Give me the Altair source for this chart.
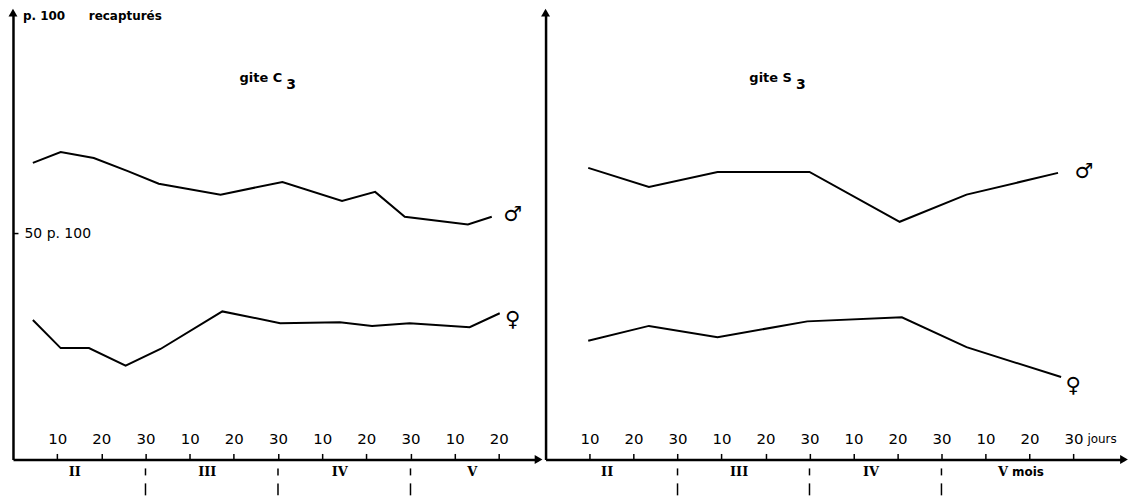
import altair as alt
import pandas as pd

# ---------------- data ----------------
# gite C3  (days counted from the start of month II)
C3_MALE_DAY = [4.5, 10.8, 18.3, 26.0, 33.0, 47.0, 61.0, 74.5, 82.0, 88.7, 103.0, 108.4]
C3_MALE_PCT = [65.5, 67.9, 66.6, 63.7, 60.9, 58.5, 61.3, 57.1, 59.1, 53.6, 51.9, 53.6]
C3_FEMALE_DAY = [4.5, 10.8, 17.2, 25.5, 33.4, 47.4, 60.5, 74.0, 81.3, 89.8, 103.4, 110.2]
C3_FEMALE_PCT = [30.8, 24.6, 24.6, 20.7, 24.4, 32.7, 30.1, 30.3, 29.5, 30.1, 29.2, 32.3]

# gite S3
S3_MALE_DAY = [9.7, 23.5, 39.1, 60.0, 80.5, 95.7, 116.5]
S3_MALE_PCT = [64.4, 60.2, 63.5, 63.5, 52.5, 58.5, 63.3]
S3_FEMALE_DAY = [9.7, 23.5, 39.1, 59.5, 81.0, 95.7, 117.2]
S3_FEMALE_PCT = [26.2, 29.5, 27.0, 30.5, 31.4, 24.8, 18.2]

TICKS_C3 = [10, 20, 30, 40, 50, 60, 70, 80, 90, 100, 110]
TICKS_S3 = [10, 20, 30, 40, 50, 60, 70, 80, 90, 100, 110, 120]
MONTH_NAMES = ["II", "III", "IV", "V"]
MONTH_CENTERS = [14, 44, 74, 104]
MONTH_BOUNDS = [30, 60, 90]
Y_TICK = [50]

# ---------------- layout / style ----------------
FONT = "DejaVu Sans"
H = 448
W1, W2 = 527, 580
XMAX1, XMAX2 = 119, 131.5
YMAX = 98.7


def panel(W, xmax, md, mp, fd, fp, ticks, left, title_main, title_x,
          m_dx, m_dy, f_dx, f_dy):
    xs = alt.Scale(domain=[0, xmax], nice=False, zero=False)
    ys = alt.Scale(domain=[0, YMAX], nice=False, zero=False)
    xaxis = alt.Axis(
        orient="top", offset=-H, values=ticks,
        labelExpr="datum.value % 30 == 0 ? '30' : '' + (datum.value % 30)",
        tickSize=6, tickWidth=1.5, tickColor="black",
        domainColor="black", domainWidth=2.5,
        labelFont=FONT, labelFontSize=15, labelColor="black",
        labelPadding=7, labelOverlap=False, labelFlush=False,
        grid=False, title=None,
    )
    if left:
        yaxis = alt.Axis(
            orient="right", offset=-W, values=Y_TICK,
            labelExpr="'50 p. 100'",
            tickSize=5, tickWidth=1.5, tickColor="black",
            domainColor="black", domainWidth=2.5,
            labelFont=FONT, labelFontSize=14, labelColor="black",
            labelPadding=6, grid=False, title=None,
        )
    else:
        yaxis = alt.Axis(
            orient="right", offset=-W, ticks=False, labels=False,
            domainColor="black", domainWidth=2.5, grid=False, title=None,
        )
    X = alt.X("day:Q", scale=xs, axis=xaxis)
    Y = alt.Y("pct:Q", scale=ys, axis=yaxis)

    df = pd.DataFrame({
        "day": md + fd,
        "pct": mp + fp,
        "sex": ["m"] * len(md) + ["f"] * len(fd),
    })
    lines = alt.Chart(df).mark_line(color="black", strokeWidth=2).encode(
        x=X, y=Y, detail="sex:N")

    male_end = pd.DataFrame({"day": [md[-1]], "pct": [mp[-1]], "sym": ["♂"]})
    fem_end = pd.DataFrame({"day": [fd[-1]], "pct": [fp[-1]], "sym": ["♀"]})
    male_sym = alt.Chart(male_end).mark_text(
        font=FONT, fontSize=21, dx=m_dx, dy=m_dy, color="black").encode(
        x=X, y=Y, text="sym:N")
    fem_sym = alt.Chart(fem_end).mark_text(
        font=FONT, fontSize=21, dx=f_dx, dy=f_dy, color="black").encode(
        x=X, y=Y, text="sym:N")

    arrows = pd.DataFrame({"day": [0, xmax], "pct": [YMAX, 0],
                           "shape": ["triangle-up", "triangle-right"]})
    heads = alt.Chart(arrows).mark_point(
        filled=True, size=80, color="black", opacity=1).encode(
        x=X, y=Y, shape=alt.Shape("shape:N", scale=None))

    months = pd.DataFrame({"day": MONTH_CENTERS, "name": MONTH_NAMES})
    month_txt = alt.Chart(months).mark_text(
        font="DejaVu Serif", fontWeight="bold", fontSize=13,
        baseline="middle", color="black").encode(
        x=X, y=alt.value(H + 13), text="name:N")

    bounds_df = pd.DataFrame({"day": MONTH_BOUNDS})
    sep_short = alt.Chart(bounds_df).mark_rule(
        color="black", strokeWidth=1.5).encode(
        x=X, y=alt.value(H + 9), y2=alt.value(H + 16))
    sep_long = alt.Chart(bounds_df).mark_rule(
        color="black", strokeWidth=1.5).encode(
        x=X, y=alt.value(H + 24), y2=alt.value(H + 36))

    t1 = alt.Chart(pd.DataFrame({"t": [title_main]})).mark_text(
        font=FONT, fontSize=13, fontWeight="bold", align="right",
        baseline="alphabetic", color="black").encode(
        x=alt.value(title_x), y=alt.value(70), text="t:N")
    t2 = alt.Chart(pd.DataFrame({"t": ["3"]})).mark_text(
        font=FONT, fontSize=14, fontWeight="bold", align="left",
        baseline="alphabetic", color="black").encode(
        x=alt.value(title_x + 4), y=alt.value(77), text="t:N")

    layers = [lines, male_sym, fem_sym, heads, month_txt,
              sep_short, sep_long, t1, t2]

    if left:
        lab = pd.DataFrame({"t": ["p. 100", "recapturés"], "px": [10, 76]})
        top_txt = alt.Chart(lab).mark_text(
            font=FONT, fontSize=12, fontWeight="bold", align="left",
            baseline="middle", color="black").encode(
            x=alt.X("px:Q", scale=None), y=alt.value(3), text="t:N")
        layers.append(top_txt)
    else:
        jours = pd.DataFrame({"day": [120], "t": ["jours"]})
        jours_txt = alt.Chart(jours).mark_text(
            font=FONT, fontSize=12, align="left", baseline="bottom",
            dx=14, color="black").encode(
            x=X, y=alt.value(H - 13), text="t:N")
        mois = pd.DataFrame({"day": [MONTH_CENTERS[-1]], "t": ["mois"]})
        mois_txt = alt.Chart(mois).mark_text(
            font=FONT, fontSize=12, fontWeight="bold", align="left",
            baseline="middle", dx=9, color="black").encode(
            x=X, y=alt.value(H + 13), text="t:N")
        layers += [jours_txt, mois_txt]

    return alt.layer(*layers).properties(width=W, height=H)


left = panel(W1, XMAX1, C3_MALE_DAY, C3_MALE_PCT, C3_FEMALE_DAY, C3_FEMALE_PCT,
             TICKS_C3, True, "gite C", 270, 21, -2, 13, 7)
right = panel(W2, XMAX2, S3_MALE_DAY, S3_MALE_PCT, S3_FEMALE_DAY, S3_FEMALE_PCT,
              TICKS_S3, False, "gite S", 247, 26, -1, 12, 9)

chart = alt.hconcat(left, right, spacing=7, bounds="flush").properties(
    padding=0).configure_view(stroke=None)

chart.save("out.html", embed_options={"renderer": "svg", "actions": False})
